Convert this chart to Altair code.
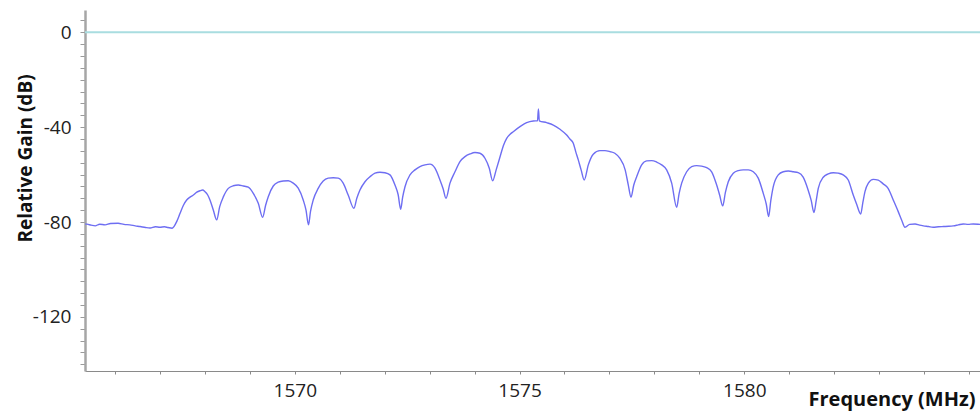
import altair as alt
import pandas as pd

# ---- data ----
freq_mhz = [
    1565.34, 1565.38, 1565.47, 1565.56, 1565.66, 1565.78, 1565.90, 1566.07, 1566.20, 1566.33,
    1566.45, 1566.56, 1566.68, 1566.78, 1566.90, 1567.00, 1567.10, 1567.18, 1567.27,
    1567.38, 1567.446, 1567.52, 1567.595, 1567.67, 1567.744, 1567.82, 1567.891, 1567.95, 1568.002,
    1568.06, 1568.113, 1568.187, 1568.263,
    1568.33, 1568.41, 1568.521, 1568.632, 1568.743, 1568.855, 1568.966, 1569.077, 1569.188, 1569.285,
    1569.35, 1569.41, 1569.521, 1569.632, 1569.743, 1569.855, 1569.966, 1570.077, 1570.188, 1570.25, 1570.305,
    1570.35, 1570.41, 1570.521, 1570.632, 1570.743, 1570.855, 1570.966, 1571.077, 1571.188, 1571.316,
    1571.38, 1571.45, 1571.562, 1571.673, 1571.784, 1571.895, 1572.006, 1572.118, 1572.229, 1572.30, 1572.356,
    1572.40, 1572.452, 1572.563, 1572.674, 1572.785, 1572.897, 1573.008, 1573.119, 1573.23, 1573.30, 1573.364,
    1573.453, 1573.564, 1573.675, 1573.787, 1573.898, 1574.009, 1574.12, 1574.231, 1574.327, 1574.403,
    1574.48, 1574.565, 1574.64, 1574.714, 1574.79, 1574.861, 1575.01, 1575.159, 1575.306, 1575.40, 1575.42,
    1575.44, 1575.604, 1575.751, 1575.90, 1576.049, 1576.12, 1576.196, 1576.25, 1576.307, 1576.37, 1576.44,
    1576.53, 1576.64, 1576.79, 1576.90, 1577.01, 1577.12, 1577.23, 1577.35, 1577.42, 1577.48,
    1577.54, 1577.606, 1577.717, 1577.828, 1577.94, 1578.05, 1578.162, 1578.273, 1578.385, 1578.496,
    1578.55, 1578.607, 1578.718, 1578.83, 1578.94, 1579.05, 1579.163, 1579.274, 1579.386, 1579.45, 1579.52,
    1579.58, 1579.644, 1579.755, 1579.866, 1579.977, 1580.089, 1580.20, 1580.311, 1580.422, 1580.49, 1580.541,
    1580.59, 1580.645, 1580.756, 1580.867, 1580.979, 1581.09, 1581.20, 1581.31, 1581.42, 1581.49, 1581.55,
    1581.60, 1581.646, 1581.757, 1581.868, 1581.98, 1582.09, 1582.20, 1582.313, 1582.424, 1582.50, 1582.59,
    1582.64, 1582.685, 1582.76, 1582.87, 1582.98, 1583.09, 1583.20, 1583.314, 1583.425, 1583.50, 1583.575,
    1583.68, 1583.80, 1583.90, 1583.985, 1584.10, 1584.20, 1584.32, 1584.43, 1584.55, 1584.65,
    1584.76, 1584.87, 1584.98, 1585.094, 1585.20, 1585.25,
]
gain_db = [
    -80.8, -80.9, -81.3, -81.6, -80.9, -81.2, -80.6, -80.5, -81.0, -81.2,
    -81.6, -81.9, -82.3, -82.5, -82.0, -82.2, -82.0, -82.3, -82.6,
    -79.5, -76.4, -73.0, -70.7, -69.5, -68.6, -67.4, -66.8, -66.5, -67.2,
    -68.5, -70.7, -74.9, -79.1,
    -73.5, -69.4, -65.8, -64.7, -64.4, -64.8, -65.3, -67.9, -72.1, -78.0,
    -73.0, -69.3, -64.8, -63.2, -62.7, -62.6, -63.6, -65.7, -70.7, -75.0, -81.2,
    -75.5, -70.7, -65.8, -62.7, -61.5, -61.3, -61.5, -63.6, -68.6, -74.2,
    -70.0, -66.5, -63.0, -60.9, -59.4, -59.0, -59.2, -60.1, -64.4, -68.5, -74.6,
    -69.5, -65.1, -60.1, -58.0, -56.6, -55.9, -55.6, -57.3, -62.3, -66.0, -70.0,
    -63.6, -58.8, -54.5, -52.4, -51.3, -50.7, -51.0, -53.1, -57.3, -62.6,
    -58.0, -52.6, -47.8, -44.7, -43.0, -41.9, -39.8, -38.1, -37.4, -37.3, -32.3,
    -37.3, -38.1, -39.1, -40.9, -43.3, -45.0, -46.8, -50.3, -53.8, -58.0, -62.3,
    -55.9, -51.4, -49.9, -49.9, -50.3, -51.0, -53.1, -58.0, -64.4, -69.5,
    -64.5, -60.9, -55.9, -54.2, -54.1, -54.7, -55.9, -58.0, -63.6, -73.8,
    -68.0, -63.6, -58.8, -56.6, -56.2, -56.4, -57.1, -58.8, -64.4, -68.5, -73.2,
    -67.5, -63.0, -59.4, -58.3, -58.0, -58.0, -58.8, -61.5, -67.9, -72.5, -77.7,
    -71.0, -65.1, -60.1, -58.8, -58.5, -58.8, -59.2, -61.1, -66.5, -71.0, -76.0,
    -71.0, -65.8, -61.1, -59.7, -59.2, -59.4, -60.1, -62.3, -68.6, -72.5, -76.6,
    -71.5, -67.2, -63.6, -62.0, -62.3, -63.9, -65.8, -70.7, -75.6, -79.1, -82.2,
    -81.0, -80.8, -81.3, -81.6, -81.9, -82.2, -82.0, -81.9, -81.8, -81.6,
    -81.2, -80.8, -81.0, -80.8, -80.9, -81.0,
]
reference_level_db = [0]

x_tick_values = [1566, 1567, 1568, 1569, 1570, 1571, 1572, 1573, 1574, 1575,
                 1576, 1577, 1578, 1579, 1580, 1581, 1582, 1583, 1584, 1585]
x_tick_labels = [1570, 1575, 1580]
y_tick_values = [5, 0, -5, -10, -15, -20, -25, -30, -35, -40, -45, -50, -55, -60, -65,
                 -70, -75, -80, -85, -90, -95, -100, -105, -110, -115, -120, -125,
                 -130, -135, -140]
y_tick_labels = [0, -40, -80, -120]

x_domain = [1565.333, 1585.244]
y_domain = [-142.8, 9.4]

FONT = "Open Sans"

spectrum = pd.DataFrame({"freq": freq_mhz, "gain": gain_db})
ref = pd.DataFrame({"gain": reference_level_db})

x_scale = alt.Scale(domain=x_domain, nice=False, zero=False)
y_scale = alt.Scale(domain=y_domain, nice=False, zero=False)

x_axis = alt.Axis(
    values=x_tick_values,
    labelExpr=f"indexof({x_tick_labels}, datum.value) >= 0 ? '' + datum.value : ''",
    title="Frequency (MHz)",
    titleFont=FONT, titleFontSize=20, titleFontWeight="bold", titleColor="#111111",
    titleX=890, titleY=34, titleAlign="right", titleBaseline="alphabetic",
    labelFont=FONT, labelFontSize=19, labelColor="#222222", labelPadding=7,
    labelFlush=False, labelOverlap=False,
    tickSize=3, tickColor="#8a8a8a", tickWidth=1,
    domainColor="#8a8a8a", domainWidth=1, grid=False,
)
y_axis = alt.Axis(
    values=y_tick_values,
    labelExpr=f"indexof({y_tick_labels}, datum.value) >= 0 ? '' + datum.value : ''",
    title="Relative Gain (dB)",
    titleFont=FONT, titleFontSize=19, titleFontWeight="bold", titleColor="#111111",
    titleX=-60, titleY=148, titleAngle=-90, titleAlign="center", titleBaseline="middle",
    labelFont=FONT, labelFontSize=19, labelColor="#222222", labelPadding=9,
    labelOverlap=False,
    tickSize=5, tickColor="#9a9a9a", tickWidth=1,
    domainColor="#a6a6a6", domainWidth=2.5, grid=False,
)

zero_line = alt.Chart(ref).mark_rule(color="#a9dde0", strokeWidth=2).encode(
    y=alt.Y("gain:Q", scale=y_scale, axis=y_axis)
)

line = alt.Chart(spectrum).mark_line(
    color="#6e6ef2", strokeWidth=1.4, clip=True, interpolate="monotone"
).encode(
    x=alt.X("freq:Q", scale=x_scale, axis=x_axis),
    y=alt.Y("gain:Q", scale=y_scale, axis=y_axis),
)

chart = (
    alt.layer(zero_line, line)
    .properties(
        width=895,
        height=361,
        autosize=alt.AutoSizeParams(type="none"),
        padding={"left": 85, "top": 10, "right": 0, "bottom": 44},
        background="white",
    )
    .configure_view(stroke=None)
)

chart.save("out.html", embed_options={"renderer": "svg", "actions": False})
